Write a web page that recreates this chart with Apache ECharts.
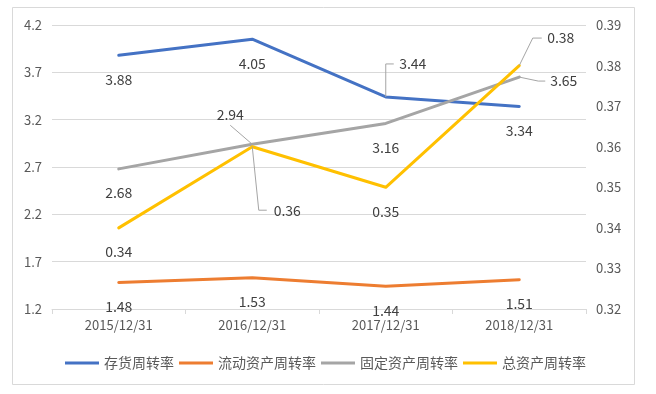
<!DOCTYPE html>
<html>
<head>
<meta charset="utf-8">
<script src="https://cdn.jsdelivr.net/npm/echarts@6/dist/echarts.min.js"></script>
<style>
html,body{margin:0;padding:0;background:#fff;}
#chart{width:656px;height:394px;}
</style>
</head>
<body>
<div id="chart"></div>
<script>
// ---- data ----
const categories = ['2015/12/31', '2016/12/31', '2017/12/31', '2018/12/31'];
const seriesNames = ['存货周转率', '流动资产周转率', '固定资产周转率', '总资产周转率'];
const inventoryTurnover = [3.88, 4.05, 3.44, 3.34];
const currentAssetTurnover = [1.48, 1.53, 1.44, 1.51];
const fixedAssetTurnover = [2.68, 2.94, 3.16, 3.65];
const totalAssetTurnover = [0.34, 0.36, 0.35, 0.38];
const leftAxisMin = 1.2, leftAxisMax = 4.2, leftAxisStep = 0.5;
const rightAxisMin = 0.32, rightAxisMax = 0.39, rightAxisStep = 0.01;

// ---- styling ----
const colors = ['#4472C4', '#ED7D31', '#A5A5A5', '#FFC000'];
const FONT = '"Noto Sans CJK SC", "Noto Sans", sans-serif';
const labelColor = '#404040';
const axisColor = '#595959';
const leaderColor = '#A5A5A5';

// moved labels (seriesIndex -> dataIndex -> label offset from point, leader polyline relative to point)
const labelOverrides = {
  0: { 2: { offset: [27, -33], leader: [[0, 0], [0, -33], [8, -33]] } },
  2: { 1: { offset: [-22, -30], leader: [[0, 0], [-22, -19]] },
       3: { offset: [44.5, 4], leader: [[0, 0], [19, 4], [26, 4]] } },
  3: { 1: { offset: [35, 64], leader: [[0, 0], [6.5, 63.5], [14.5, 63.5]] },
       3: { offset: [41.5, -27.5], leader: [[0, 0], [13.5, -27.5], [22.5, -27.5]] } }
};

function buildData(values, si) {
  return values.map(function (v, i) {
    const o = labelOverrides[si] && labelOverrides[si][i];
    if (!o) return v;
    return { value: v, label: { offset: o.offset } };
  });
}

const allValues = [inventoryTurnover, currentAssetTurnover, fixedAssetTurnover, totalAssetTurnover];
const series = allValues.map(function (vals, si) {
  return {
    name: seriesNames[si],
    type: 'line',
    yAxisIndex: si === 3 ? 1 : 0,
    data: buildData(vals, si),
    symbol: 'circle',
    symbolSize: 1,
    showSymbol: true,
    lineStyle: { color: colors[si], width: 3, cap: 'round', join: 'round' },
    itemStyle: { color: colors[si] },
    label: {
      show: true,
      position: 'inside',
      offset: [0, 24],
      color: labelColor,
      fontSize: 14,
      fontFamily: FONT,
      textBorderWidth: 0,
      formatter: function (p) { return (typeof p.value === 'number' ? p.value : p.data.value).toFixed(2); }
    },
    emphasis: { disabled: true },
    z: si === 3 ? 3 : 2
  };
});

const borderGraphic = {
  type: 'rect',
  shape: { x: 12.5, y: 7.5, width: 622, height: 377 },
  style: { fill: 'none', stroke: '#D9D9D9', lineWidth: 1 },
  silent: true, z: -1
};

const chart = echarts.init(document.getElementById('chart'), null, { renderer: 'canvas' });
chart.setOption({
  animation: false,
  backgroundColor: '#ffffff',
  color: colors,
  textStyle: { fontFamily: FONT },
  graphic: [borderGraphic],
  grid: { left: 52, right: 70, top: 25, bottom: 85, containLabel: false },
  legend: {
    left: 60,
    top: 351,
    icon: 'rect',
    itemWidth: 34,
    itemHeight: 3,
    itemGap: 5,
    textStyle: { color: axisColor, fontSize: 14, fontFamily: FONT },
    data: seriesNames
  },
  xAxis: {
    type: 'category',
    data: categories,
    boundaryGap: true,
    axisLine: { lineStyle: { color: '#D9D9D9', width: 1 } },
    axisTick: { show: true, length: 5, lineStyle: { color: '#D9D9D9' } },
    axisLabel: { color: axisColor, fontSize: 13, margin: 10, fontFamily: FONT }
  },
  yAxis: [{
    type: 'value',
    min: leftAxisMin, max: leftAxisMax, interval: leftAxisStep,
    axisLine: { show: false }, axisTick: { show: false },
    splitLine: { lineStyle: { color: '#D9D9D9', width: 1 } },
    axisLabel: { color: axisColor, fontSize: 13, margin: 10, fontFamily: FONT,
      formatter: function (v) { return v.toFixed(1); } }
  }, {
    type: 'value',
    min: rightAxisMin, max: rightAxisMax, interval: rightAxisStep,
    axisLine: { show: false }, axisTick: { show: false },
    splitLine: { show: false },
    axisLabel: { color: axisColor, fontSize: 13, margin: 10, fontFamily: FONT,
      formatter: function (v) { return v.toFixed(2); } }
  }],
  series: series
});

// leader lines, anchored at data points converted through the chart's own scales
const leaderGraphics = [];
Object.keys(labelOverrides).forEach(function (siKey) {
  const si = +siKey;
  Object.keys(labelOverrides[si]).forEach(function (diKey) {
    const di = +diKey;
    const p = chart.convertToPixel({ seriesIndex: si }, [di, allValues[si][di]]);
    const pts = labelOverrides[si][di].leader.map(function (d) { return [p[0] + d[0], p[1] + d[1]]; });
    leaderGraphics.push({
      type: 'polyline',
      shape: { points: pts },
      style: { stroke: leaderColor, lineWidth: 1, fill: null },
      silent: true,
      z: 10
    });
  });
});
chart.setOption({ graphic: [borderGraphic].concat(leaderGraphics) }, { replaceMerge: ['graphic'] });
</script>
</body>
</html>
